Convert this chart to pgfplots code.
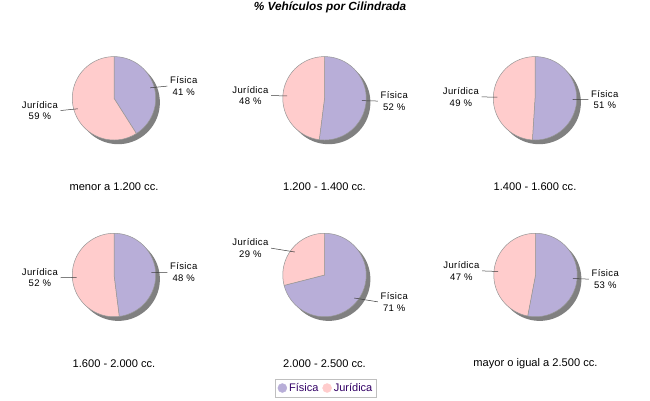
\documentclass[border=0pt]{standalone}
\usepackage{pgfplots}
\pgfplotsset{compat=1.18}
\usepackage{fontspec}
\setmainfont{Liberation Sans}
\newfontfamily\lblfont[LetterSpace=4]{Liberation Sans}
\definecolor{fis}{RGB}{184,174,216}
\definecolor{jur}{RGB}{255,204,204}
\definecolor{shad}{RGB}{128,128,128}
\definecolor{edge}{RGB}{150,150,150}
\definecolor{lead}{RGB}{60,60,60}
\definecolor{legtext}{RGB}{51,0,102}

% #1 cx, #2 cy (px from top-left), #3 Fisica %, #4 Juridica %, #5 category
\newcommand{\pie}[5]{%
\begin{axis}[at={(#1pt,-#2pt)}, anchor=center, scale only axis,
  width=83.4pt, height=83.4pt, xmin=-1, xmax=1, ymin=-1, ymax=1,
  hide axis, clip=false]
\addplot[fill=shad, draw=none, domain=0:360, samples=121, variable=\t]
  ({0.1+cos(\t)},{-0.1+sin(\t)}) -- cycle;
\addplot[fill=fis, draw=edge, line width=0.5pt, domain={90-3.6*#3}:90, samples=80, variable=\t]
  ({cos(\t)},{sin(\t)}) -- (axis cs:0,0) -- cycle;
\addplot[fill=jur, draw=edge, line width=0.5pt, domain=-270:{90-3.6*#3}, samples=80, variable=\t]
  ({cos(\t)},{sin(\t)}) -- (axis cs:0,0) -- cycle;
\draw[lead, line width=0.5pt] (axis cs:{0.9*cos(90-1.8*#3)},{0.9*sin(90-1.8*#3)})
  -- (axis cs:1.28,{1.05*sin(90-1.8*#3)})
  node[anchor=west, align=center, inner sep=2.5pt, text=black, font=\lblfont\fontsize{9.5}{11.5}\selectfont] {Física\\#3 \%};
\draw[lead, line width=0.5pt] (axis cs:{0.9*cos(90-3.6*#3-1.8*#4)},{0.9*sin(90-3.6*#3-1.8*#4)})
  -- (axis cs:-1.28,{1.05*sin(90-3.6*#3-1.8*#4)})
  node[anchor=east, align=center, inner sep=2.5pt, text=black, font=\lblfont\fontsize{9.5}{11.5}\selectfont] {Jurídica\\#4 \%};
\node[font=\fontsize{11.1}{13}\selectfont] at (axis cs:0,-2.12) {#5};
\end{axis}}

\begin{document}
\begin{tikzpicture}
\path[use as bounding box, fill=white] (0,0) rectangle (650pt,-400pt);
\node[font=\fontsize{11.8}{13}\selectfont\bfseries\itshape] at (330pt,-7.5pt) {\% Vehículos por Cilindrada};

\pie{114}{98.3}{41}{59}{menor a 1.200 cc.}
\pie{324.5}{98.3}{52}{48}{1.200 - 1.400 cc.}
\pie{535}{98.3}{51}{49}{1.400 - 1.600 cc.}
\pie{114}{275}{48}{52}{1.600 - 2.000 cc.}
\pie{324.5}{275}{71}{29}{2.000 - 2.500 cc.}
\pie{535.5}{275}{53}{47}{mayor o igual a 2.500 cc.}

\begin{axis}[at={(326pt,-388pt)}, anchor=center, scale only axis,
  width=10pt, height=10pt, hide axis, xmin=0, xmax=1, ymin=0, ymax=1,
  legend columns=2,
  legend style={at={(0.5,0.5)}, anchor=center, draw=lightgray, fill=white,
    font=\fontsize{11}{12}\selectfont, text=legtext, inner sep=2pt,
    /tikz/every even column/.append style={column sep=2pt}},
  legend image code/.code={\fill[#1] (0.15cm,0cm) circle (4.5pt);}]
\addlegendimage{fis}
\addlegendentry{Física}
\addlegendimage{jur}
\addlegendentry{Jurídica}
\end{axis}
\end{tikzpicture}
\end{document}
